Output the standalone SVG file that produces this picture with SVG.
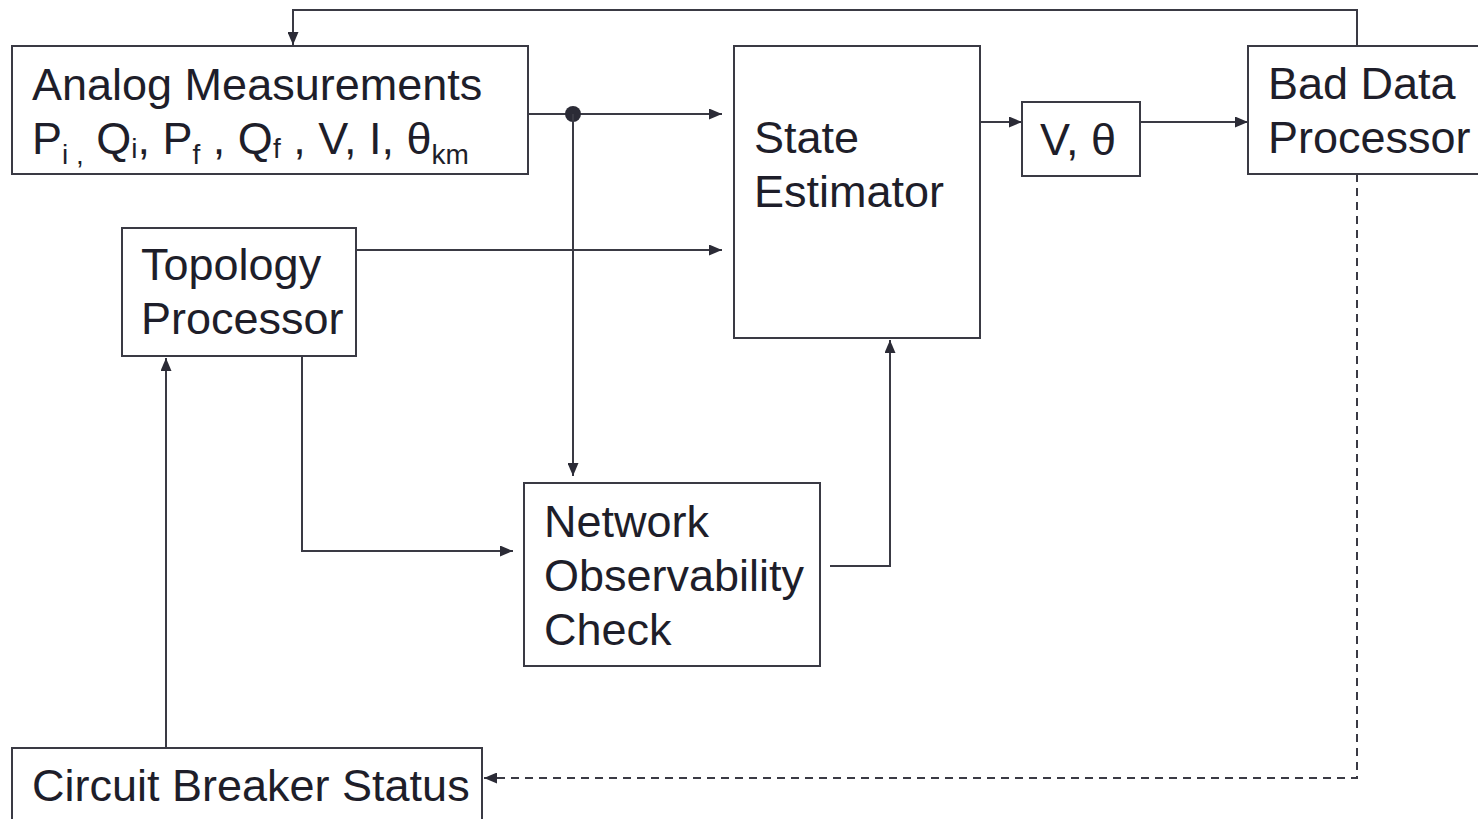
<svg xmlns="http://www.w3.org/2000/svg" width="1478" height="819" viewBox="0 0 1478 819">
  <defs>
    <marker id="arrow" viewBox="0 0 13 11" refX="13" refY="5.5" markerWidth="13" markerHeight="11" markerUnits="userSpaceOnUse" orient="auto">
      <path d="M0,0 L13,5.5 L0,11 Z" fill="#2b2b36"/>
    </marker>
    <style>
      .box { fill: #ffffff; stroke: #3a3a44; stroke-width: 2; }
      .lbl { font-family: "Liberation Sans", Arial, sans-serif; font-size: 45px; fill: #1e1e2a; }
      .sub { font-size: 28px; }
      .wire { fill: none; stroke: #3a3a44; stroke-width: 2; }
      .dash { stroke-dasharray: 8 6; }
    </style>
  </defs>
  <rect width="1478" height="819" fill="#ffffff"/>

  <g id="connectors">
    <!-- measurements to estimator, with tap down to observability check -->
    <path class="wire" d="M528,114 H722" marker-end="url(#arrow)"/>
    <circle cx="573" cy="114" r="8" fill="#2b2b36"/>
    <path class="wire" d="M573,114 V476" marker-end="url(#arrow)"/>
    <!-- topology to estimator -->
    <path class="wire" d="M356,250 H722" marker-end="url(#arrow)"/>
    <!-- topology to observability check -->
    <path class="wire" d="M302,356 V551 H513" marker-end="url(#arrow)"/>
    <!-- observability check to estimator -->
    <path class="wire" d="M830,566 H890 V340" marker-end="url(#arrow)"/>
    <!-- estimator to V, theta -->
    <path class="wire" d="M980,122 H1022" marker-end="url(#arrow)"/>
    <!-- V, theta to bad data processor -->
    <path class="wire" d="M1140,122 H1248" marker-end="url(#arrow)"/>
    <!-- feedback to analog measurements -->
    <path class="wire" d="M1357,46 V10 H293 V45" marker-end="url(#arrow)"/>
    <!-- dashed feedback to breaker status -->
    <path class="wire dash" d="M1357,174 V778 H484" marker-end="url(#arrow)"/>
    <!-- breaker status to topology -->
    <path class="wire" d="M166,748 V358" marker-end="url(#arrow)"/>
  </g>

  <g id="analog-measurements">
    <rect class="box" x="12" y="46" width="516" height="128"/>
    <text class="lbl" x="32" y="100">Analog Measurements</text>
    <text class="lbl" x="32" y="154">P<tspan class="sub" dy="10">i ,</tspan><tspan dy="-10"> Q</tspan><tspan class="sub" dy="4">i</tspan><tspan dy="-4">, P</tspan><tspan class="sub" dy="10">f</tspan><tspan dy="-10"> , Q</tspan><tspan class="sub" dy="4">f</tspan><tspan dy="-4"> , V, I, θ</tspan><tspan class="sub" dy="10">km</tspan></text>
  </g>

  <g id="topology-processor">
    <rect class="box" x="122" y="228" width="234" height="128"/>
    <text class="lbl" x="141" y="280">Topology</text>
    <text class="lbl" x="141" y="334">Processor</text>
  </g>

  <g id="state-estimator">
    <rect class="box" x="734" y="46" width="246" height="292"/>
    <text class="lbl" x="754" y="153">State</text>
    <text class="lbl" x="754" y="207">Estimator</text>
  </g>

  <g id="v-theta">
    <rect class="box" x="1022" y="102" width="118" height="74"/>
    <text class="lbl" x="1040" y="155">V, θ</text>
  </g>

  <g id="bad-data-processor">
    <rect class="box" x="1248" y="46" width="232" height="128"/>
    <text class="lbl" x="1268" y="99">Bad Data</text>
    <text class="lbl" x="1268" y="153">Processor</text>
  </g>

  <g id="network-observability-check">
    <rect class="box" x="524" y="483" width="296" height="183"/>
    <text class="lbl" x="544" y="537">Network</text>
    <text class="lbl" x="544" y="591">Observability</text>
    <text class="lbl" x="544" y="645">Check</text>
  </g>

  <g id="circuit-breaker-status">
    <rect class="box" x="12" y="748" width="470" height="80"/>
    <text class="lbl" x="32" y="801">Circuit Breaker Status</text>
  </g>
</svg>
